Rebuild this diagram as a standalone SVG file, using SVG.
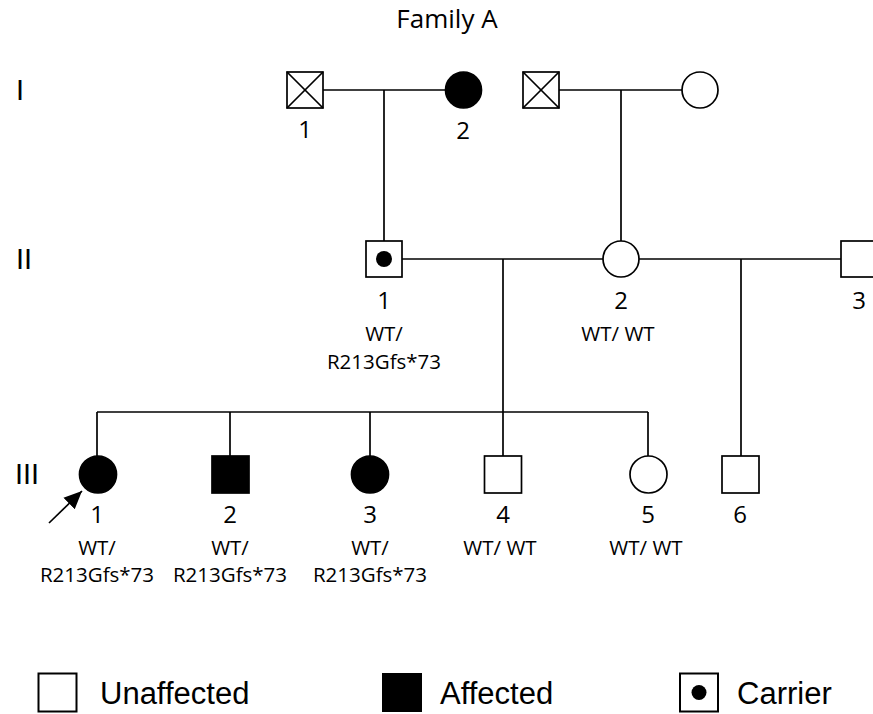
<svg xmlns="http://www.w3.org/2000/svg" width="873" height="714" viewBox="0 0 873 714">
<style>
.ln{stroke:#000;stroke-width:1.7;fill:none}
.sh{stroke:#000;stroke-width:1.7;fill:#fff}
.fl{stroke:#000;stroke-width:1.7;fill:#000}
.num{font-family:"Open Sans",sans-serif;font-size:24px;text-anchor:middle;fill:#000}
.gt{font-family:"Open Sans",sans-serif;font-size:20.5px;text-anchor:middle;fill:#000}
.gen{font-family:"Liberation Sans",Arial,sans-serif;font-size:29px;fill:#000}
.leg{font-family:"Liberation Sans",Arial,sans-serif;font-size:31px;fill:#000}
.lb{stroke:#000;stroke-width:2;fill:#fff}
</style>
<defs>
<marker id="ah" viewBox="0 0 10 10" refX="10" refY="5" markerWidth="18" markerHeight="18" markerUnits="userSpaceOnUse" orient="auto">
<path d="M0,0.5 L10,5 L0,9.5 z" fill="#000"/>
</marker>
</defs>
<rect width="873" height="714" fill="#fff"/>
<text x="447" y="28" font-family="'Open Sans',sans-serif" font-size="26" text-anchor="middle">Family A</text>
<text class="gen" x="16" y="100">I</text>
<text class="gen" x="16" y="269">II</text>
<text class="gen" x="15" y="484">III</text>
<g id="connectors">
<line class="ln" x1="323" y1="90" x2="445" y2="90"/>
<line class="ln" x1="559" y1="90" x2="682" y2="90"/>
<line class="ln" x1="384" y1="90" x2="384" y2="241"/>
<line class="ln" x1="621" y1="90" x2="621" y2="241"/>
<line class="ln" x1="402" y1="259" x2="603" y2="259"/>
<line class="ln" x1="639" y1="259" x2="841" y2="259"/>
<line class="ln" x1="503" y1="259" x2="503" y2="456"/>
<line class="ln" x1="741" y1="259" x2="741" y2="456"/>
<line class="ln" x1="97" y1="412" x2="648" y2="412"/>
<line class="ln" x1="97" y1="412" x2="97" y2="456"/>
<line class="ln" x1="230" y1="412" x2="230" y2="456"/>
<line class="ln" x1="370" y1="412" x2="370" y2="456"/>
<line class="ln" x1="648" y1="412" x2="648" y2="456"/>
<line class="ln" x1="49" y1="523" x2="82" y2="491" marker-end="url(#ah)"/>
</g>
<g id="I-1">
<rect class="sh" x="287" y="72" width="36" height="36"/>
<line class="ln" x1="287" y1="72" x2="323" y2="108"/>
<line class="ln" x1="323" y1="72" x2="287" y2="108"/>
<text class="num" x="305" y="138">1</text>
</g>
<g id="I-2">
<circle class="fl" cx="463.5" cy="90" r="18"/>
<text class="num" x="463" y="139">2</text>
</g>
<g id="I-3">
<rect class="sh" x="523" y="72" width="36" height="36"/>
<line class="ln" x1="523" y1="72" x2="559" y2="108"/>
<line class="ln" x1="559" y1="72" x2="523" y2="108"/>
</g>
<g id="I-4">
<circle class="sh" cx="700" cy="90" r="18"/>
</g>
<g id="II-1">
<rect class="sh" x="366" y="241" width="36" height="36"/>
<circle cx="384" cy="259" r="8" fill="#000"/>
<text class="num" x="384" y="309">1</text>
<text class="gt" x="384" y="341">WT/</text>
<text class="gt" x="384" y="369">R213Gfs*73</text>
</g>
<g id="II-2">
<circle class="sh" cx="621" cy="259" r="18"/>
<text class="num" x="621" y="309">2</text>
<text class="gt" x="618" y="341">WT/ WT</text>
</g>
<g id="II-3">
<rect class="sh" x="841" y="241" width="36" height="36"/>
<text class="num" x="859" y="309">3</text>
</g>
<g id="III-1">
<circle class="fl" cx="98" cy="474.5" r="18.5"/>
<text class="num" x="97" y="523">1</text>
<text class="gt" x="97" y="555">WT/</text>
<text class="gt" x="97" y="582">R213Gfs*73</text>
</g>
<g id="III-2">
<rect class="fl" x="212" y="456" width="37" height="37"/>
<text class="num" x="230" y="523">2</text>
<text class="gt" x="230" y="555">WT/</text>
<text class="gt" x="230" y="582">R213Gfs*73</text>
</g>
<g id="III-3">
<circle class="fl" cx="370" cy="474.5" r="18.5"/>
<text class="num" x="370" y="523">3</text>
<text class="gt" x="370" y="555">WT/</text>
<text class="gt" x="370" y="582">R213Gfs*73</text>
</g>
<g id="III-4">
<rect class="sh" x="484.5" y="456" width="37" height="37"/>
<text class="num" x="503" y="523">4</text>
<text class="gt" x="500" y="555">WT/ WT</text>
</g>
<g id="III-5">
<circle class="sh" cx="648.5" cy="474.5" r="18.5"/>
<text class="num" x="648" y="523">5</text>
<text class="gt" x="646" y="555">WT/ WT</text>
</g>
<g id="III-6">
<rect class="sh" x="722" y="456" width="37" height="37"/>
<text class="num" x="740" y="523">6</text>
</g>
<g id="legend-unaffected">
<rect class="lb" x="38.5" y="673.5" width="38" height="38"/>
<text class="leg" x="100" y="704">Unaffected</text>
</g>
<g id="legend-affected">
<rect x="382" y="673" width="40" height="39" fill="#000"/>
<text class="leg" x="440" y="704">Affected</text>
</g>
<g id="legend-carrier">
<rect class="lb" x="680" y="673.5" width="38" height="38"/>
<circle cx="699" cy="692.5" r="7.5" fill="#000"/>
<text class="leg" x="737" y="704">Carrier</text>
</g>
</svg>
